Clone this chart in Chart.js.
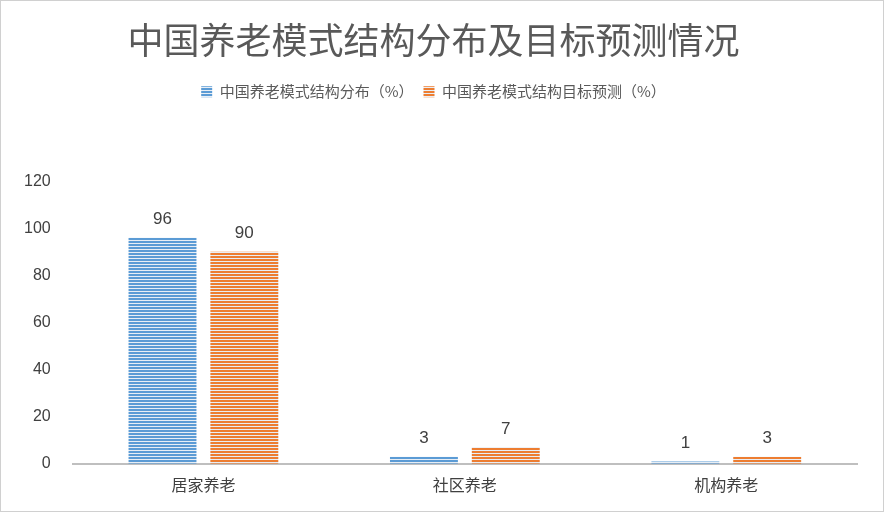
<!DOCTYPE html>
<html><head><meta charset="utf-8">
<script src="https://cdn.jsdelivr.net/npm/chart.js@4"></script>
<style>
html,body{margin:0;padding:0;background:#fff;}
#wrap{position:absolute;left:0;top:0;width:882px;height:510px;border:1px solid #d0d0d0;}
</style></head><body>
<div id="wrap"><canvas id="c" width="882" height="510"></canvas></div>
<script>
const categories = ['居家养老', '社区养老', '机构养老'];
const seriesNames = ['中国养老模式结构分布（%）', '中国养老模式结构目标预测（%）'];
const current = [96, 3, 1];
const target = [90, 7, 3];

function stripes(color) {
  const p = document.createElement('canvas');
  p.width = 4; p.height = 3;
  const g = p.getContext('2d');
  g.fillStyle = '#e8eef5'; g.fillRect(0, 0, 4, 3);
  g.fillStyle = color; g.fillRect(0, 0, 4, 2);
  return g.createPattern(p, 'repeat');
}

const labelPlugin = {
  id: 'vals',
  afterDatasetsDraw(chart) {
    const ctx = chart.ctx;
    ctx.save();
    ctx.font = '17px "Liberation Sans", Arial, sans-serif';
    ctx.fillStyle = '#404040';
    ctx.textAlign = 'center';
    ctx.textBaseline = 'bottom';
    chart.data.datasets.forEach((ds, i) => {
      chart.getDatasetMeta(i).data.forEach((bar, j) => {
        ctx.fillText(ds.data[j], bar.x, bar.y - 10);
      });
    });
    ctx.restore();
  }
};

new Chart(document.getElementById('c'), {
  type: 'bar',
  data: {
    labels: categories,
    datasets: [
      { label: seriesNames[0], data: current, backgroundColor: stripes('#5b9bd5'), borderWidth: 0 },
      { label: seriesNames[1], data: target, backgroundColor: stripes('#ed7d31'), borderWidth: 0 }
    ]
  },
  options: {
    responsive: false,
    animation: false,
    layout: { padding: { left: 9, right: 26, bottom: 12 } },
    datasets: { bar: { barPercentage: 0.83, categoryPercentage: 0.626 } },
    scales: {
      x: {
        grid: { display: false },
        border: { color: '#bfbfbf', width: 2 },
        ticks: { color: '#404040', font: { size: 16, family: '"Noto Sans CJK SC"' }, padding: 4 }
      },
      y: {
        min: 0, max: 120,
        ticks: { stepSize: 20, color: '#404040', font: { size: 16, family: '"Liberation Sans", Arial' }, padding: 14 },
        grid: { display: false },
        border: { display: false }
      }
    },
    plugins: {
      title: {
        display: true, text: '中国养老模式结构分布及目标预测情况',
        color: '#595959', font: { size: 36, family: '"Noto Sans CJK SC"', weight: 'normal' },
        padding: { top: 18, bottom: 12 }
      },
      legend: {
        labels: {
          boxWidth: 11, boxHeight: 11, color: '#595959',
          font: { size: 15, family: '"Noto Sans CJK SC"' }, padding: 10
        }
      },
      tooltip: { enabled: false }
    }
  },
  plugins: [labelPlugin, {
    id: 'gap',
    beforeInit(chart) {
      const fit = chart.legend.fit;
      chart.legend.fit = function () { fit.bind(chart.legend)(); this.height += 72; };
    }
  }]
});
</script>
</body></html>
